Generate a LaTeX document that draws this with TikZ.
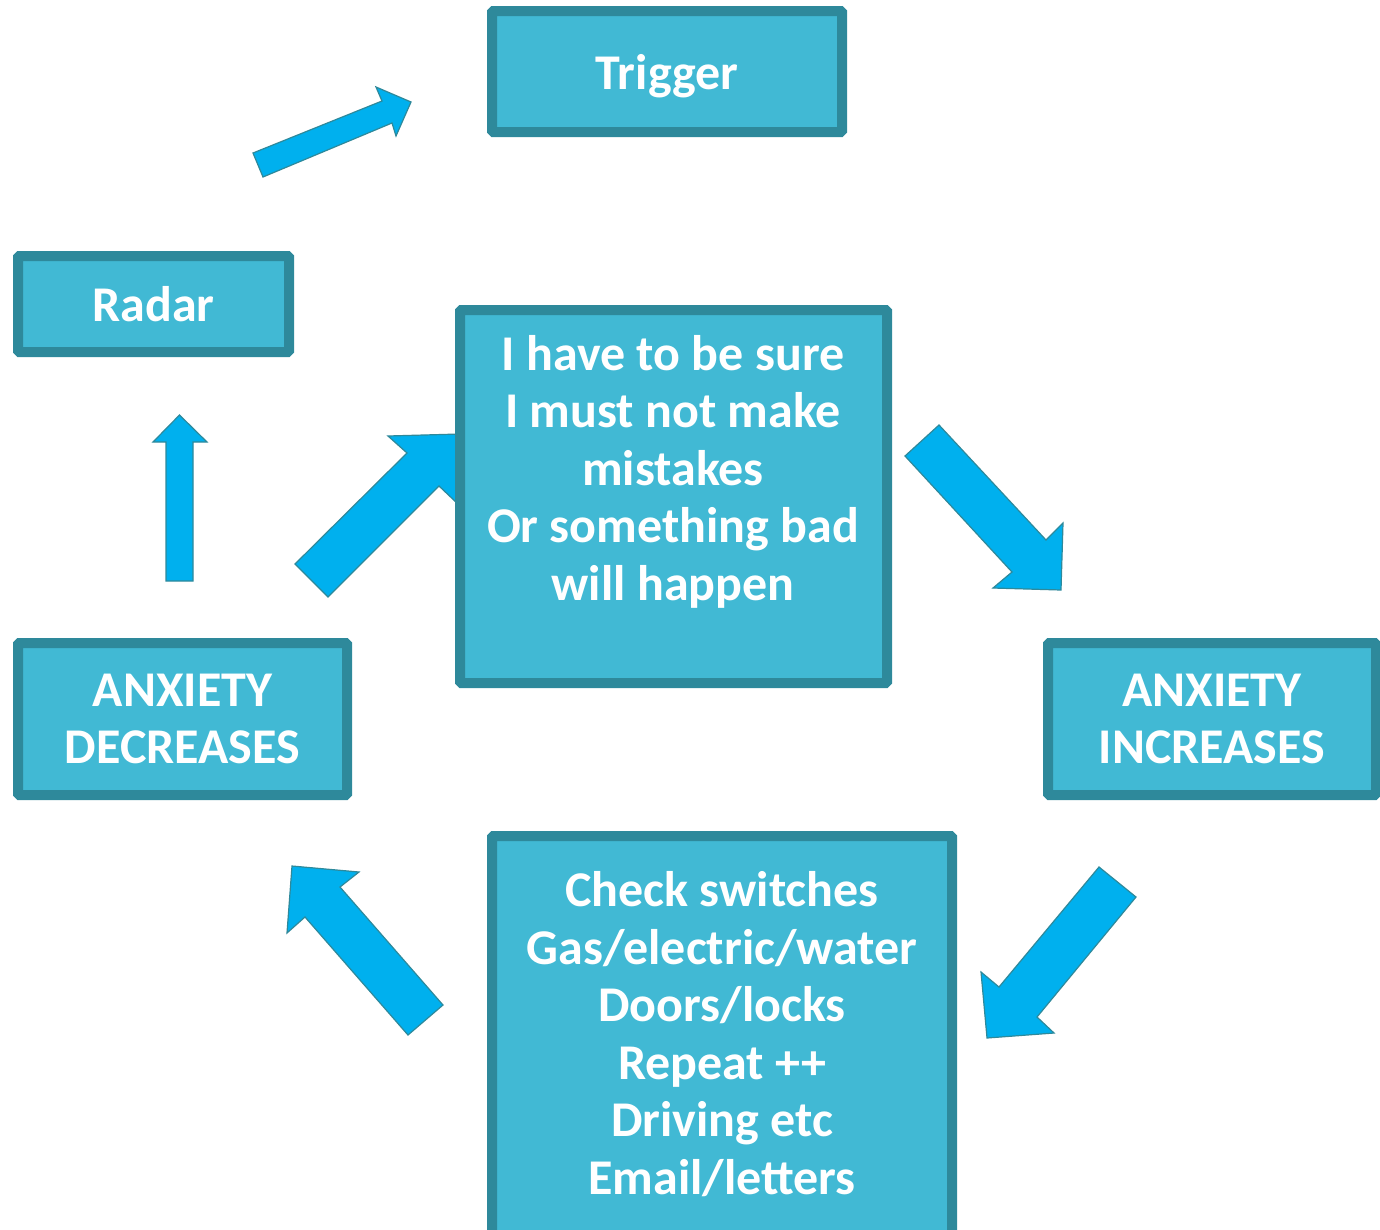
\documentclass[tikz,border=0pt]{standalone}
\usepackage{fontspec}
\setmainfont{Carlito}
\definecolor{boxfill}{HTML}{41B9D4}
\definecolor{boxline}{HTML}{2E899B}
\definecolor{arrowfill}{HTML}{00B0EE}
\begin{document}
\begin{tikzpicture}[x=1pt,y=-1pt,
  box/.style={draw=boxline,fill=boxfill,line width=10pt,rounded corners=1.5pt,inner sep=0pt,
     text=white,font=\bfseries\fontsize{50}{57.5}\selectfont,align=center},
  lbl/.style={text=white,font=\bfseries\fontsize{50}{57.5}\selectfont,align=center,inner sep=0pt},
  blockarrow/.style={draw=boxline,fill=arrowfill,line width=1.2pt,line join=miter}]
\useasboundingbox (0,0) rectangle (1380,1229);
% block arrows
\draw[blockarrow] (253,153) -- (382,101) -- (376,87) -- (411,102) -- (396,136) -- (392,123) -- (263,177) -- cycle;
\draw[blockarrow] (166,581) -- (166,442) -- (153,442) -- (179.5,415) -- (207,442) -- (193,442) -- (193,581) -- cycle;
\draw[blockarrow] (295,564) -- (407,453) -- (388,436) -- (460,434) -- (458,504) -- (439,486) -- (328,597) -- cycle;
\draw[blockarrow] (905,456) -- (939,425) -- (1046,540) -- (1063,523) -- (1061,590) -- (993,588) -- (1012,572) -- cycle;
\draw[blockarrow] (1099,867) -- (1136,897) -- (1037,1017) -- (1054,1033) -- (987,1038) -- (981,972) -- (999,987) -- cycle;
\draw[blockarrow] (443,1005) -- (408,1035) -- (305,917) -- (287,933) -- (292,866) -- (359,872) -- (340,887) -- cycle;
% boxes
\node[box,minimum width=350pt,minimum height=121pt,text depth=0pt] (trigger) at (667,71.5) {Trigger};
\node[box,minimum width=271pt,minimum height=96pt] (radar) at (153.5,304) {Radar};
\node[box,minimum width=427pt,minimum height=373pt] (belief) at (673.5,496.5) {};
\node[box,minimum width=329pt,minimum height=152pt] (decr) at (182.5,719) {ANXIETY\\DECREASES};
\node[box,minimum width=328pt,minimum height=152pt] (incr) at (1212,719) {ANXIETY\\INCREASES};
\node[box,minimum width=460pt,minimum height=399pt] (checks) at (722,1035.5) {};
% texts
\node[lbl] (beliefText) at (673,471.5) {I have to be sure\\I must not make\\mistakes\\Or something bad\\will happen};
\node[lbl] (checksText) at (722,1034) {Check switches\\Gas/electric/water\\Doors/locks\\Repeat ++\\Driving etc\\Email/letters};
\end{tikzpicture}
\end{document}
